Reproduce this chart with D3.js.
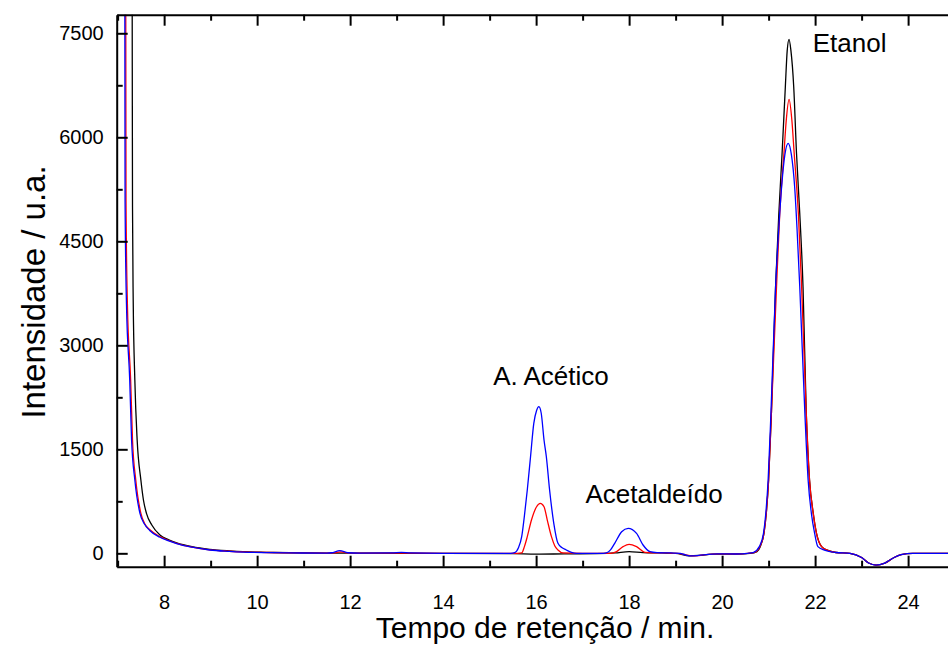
<!DOCTYPE html>
<html>
<head>
<meta charset="utf-8">
<script src="https://cdn.jsdelivr.net/npm/d3@7"></script>
<style>
  html, body { margin: 0; padding: 0; background: #fff; }
  svg { display: block; font-family: "Liberation Sans", Arial, Helvetica, sans-serif; }
</style>
</head>
<body>
<svg id="chart" width="948" height="645"></svg>
<script>
// Chromatogram traces: [retention time (min), intensity (a.u.)]
const traceBlack = [
  [7.31, 9500], [7.315, 7000], [7.32, 5000], [7.335, 3650], [7.37, 2500],
  [7.42, 1634], [7.50, 1057], [7.555, 769], [7.62, 577], [7.735, 408], [7.91, 264],
  [8.10, 195], [8.27, 150], [8.60, 95], [8.98, 58], [9.40, 35], [9.70, 23],
  [10.2, 14], [10.7, 8], [11.5, 4], [12.5, 2], [13.5, 0], [15.5, -5], [16.0, -12],
  [16.6, -8], [17.3, -5], [17.7, 5], [18.0, 25], [18.3, 10], [18.7, 5], [19.0, 0],
  [19.3, -35], [19.5, -30], [19.8, -12], [20.3, -10], [20.6, 0], [20.75, 25],
  [20.82, 96], [20.90, 288], [20.95, 577], [21.0, 1057], [21.06, 2019], [21.15, 3845],
  [21.22, 4900], [21.29, 5769], [21.36, 6730], [21.40, 7250], [21.44, 7413],
  [21.48, 7250], [21.54, 6730], [21.60, 5769], [21.67, 4900], [21.74, 3845],
  [21.81, 2019], [21.88, 1057], [21.96, 577], [22.03, 288], [22.14, 96], [22.26, 45],
  [22.45, 12], [22.75, 0], [23.0, -60], [23.15, -140], [23.32, -170], [23.5, -140],
  [23.7, -60], [23.85, -20], [24.1, 0], [25.0, 0]
];

const traceRed = [
  [7.17, 9500], [7.175, 7768], [7.18, 5090], [7.21, 3600], [7.28, 2500], [7.32, 1634],
  [7.39, 1057], [7.50, 577], [7.58, 430], [7.70, 336], [7.91, 240],
  [8.10, 185], [8.27, 145], [8.60, 90], [8.98, 50], [9.40, 30], [9.70, 20],
  [10.2, 12], [10.7, 7], [11.5, 3], [11.65, 5], [11.8, 22], [11.95, 5], [12.2, 2],
  [13.0, 3], [14.0, 0], [15.6, 0], [15.69, 5], [15.75, 100], [15.81, 240],
  [15.90, 480], [16.01, 672], [16.09, 721], [16.17, 672], [16.24, 480], [16.33, 240],
  [16.40, 110], [16.47, 48], [16.58, 5], [17.0, 0], [17.6, 0], [17.73, 24],
  [17.87, 96], [18.0, 130], [18.16, 96], [18.34, 15], [18.5, 8], [18.8, 5],
  [19.05, 0], [19.2, -20], [19.35, -38], [19.5, -32], [19.7, -15], [19.9, -8],
  [20.3, -10], [20.55, 0], [20.70, 15], [20.81, 96], [20.90, 288], [20.95, 577],
  [21.0, 1057], [21.06, 2019], [21.17, 3845], [21.24, 4900], [21.33, 5769],
  [21.38, 6250], [21.44, 6548], [21.50, 6250], [21.55, 5769], [21.64, 4900],
  [21.71, 3845], [21.81, 2019], [21.88, 1057], [21.96, 577], [22.03, 288],
  [22.14, 96], [22.26, 45], [22.45, 12], [22.75, 0], [23.0, -60], [23.15, -140],
  [23.32, -170], [23.5, -140], [23.7, -60], [23.85, -20], [24.1, 0], [25.0, 0]
];

const traceBlue = [
  [7.15, 9500], [7.155, 7768], [7.16, 5090], [7.19, 3600], [7.26, 2500], [7.30, 1634],
  [7.37, 1057], [7.48, 577], [7.57, 430], [7.69, 330], [7.90, 235],
  [8.10, 180], [8.27, 140], [8.60, 88], [8.98, 48], [9.40, 28], [9.70, 18],
  [10.2, 10], [10.7, 6], [11.5, 3], [11.6, 8], [11.78, 38], [11.95, 8], [12.2, 3],
  [12.9, 5], [13.1, 15], [13.3, 5], [14.0, 0], [15.45, 0], [15.54, 10], [15.62, 80],
  [15.69, 240], [15.75, 550], [15.81, 913], [15.88, 1393], [15.95, 1875],
  [16.01, 2060], [16.06, 2115], [16.11, 2020], [16.17, 1634], [16.22, 1393],
  [16.29, 913], [16.38, 433], [16.47, 144], [16.56, 80], [16.65, 48], [16.76, 15],
  [16.87, 0], [17.45, 0], [17.51, 5], [17.60, 50], [17.69, 144], [17.84, 312],
  [17.98, 360], [18.16, 288], [18.30, 120], [18.45, 24], [18.6, 10], [18.9, 5],
  [19.1, 0], [19.2, -20], [19.33, -38], [19.5, -30], [19.7, -15], [19.9, -8],
  [20.3, -10], [20.55, 0], [20.68, 15], [20.80, 96], [20.89, 288], [20.94, 577],
  [20.99, 1057], [21.05, 2019], [21.15, 3845], [21.22, 4700], [21.28, 5287],
  [21.35, 5750], [21.42, 5913], [21.49, 5750], [21.56, 5287], [21.61, 4700],
  [21.67, 3845], [21.78, 2019], [21.85, 1057], [21.92, 577], [21.99, 288],
  [22.06, 96], [22.2, 45], [22.45, 12], [22.75, 0], [23.0, -60], [23.15, -140],
  [23.3, -170], [23.5, -140], [23.7, -60], [23.85, -20], [24.1, 0], [25.0, 0]
];

const xTicks = [8, 10, 12, 14, 16, 18, 20, 22, 24];
const yTicks = [0, 1500, 3000, 4500, 6000, 7500];

// Peak annotations: [text, x (min), y (a.u.), anchor]
const peakLabels = [
  ["A. Acético", 16.32, 2427, "middle"],
  ["Acetaldeído", 17.06, 730, "start"],
  ["Etanol", 21.95, 7225, "start"]
];

const svg = d3.select("#chart");
const plot = { left: 116.7, right: 954.6, top: 14.7, bottom: 566.7 };

const x = d3.scaleLinear().domain([6.98, 25.0]).range([plot.left, plot.right]);
const y = d3.scaleLinear().domain([-193, 7768]).range([plot.bottom, plot.top]);

svg.append("defs").append("clipPath").attr("id", "plotClip")
  .append("rect")
  .attr("x", plot.left).attr("y", plot.top)
  .attr("width", plot.right - plot.left).attr("height", plot.bottom - plot.top);

const line = d3.line()
  .x(d => x(d[0]))
  .y(d => y(d[1]))
  .curve(d3.curveMonotoneX);

const traces = svg.append("g").attr("clip-path", "url(#plotClip)");
[[traceBlack, "#000000"], [traceRed, "#ff0000"], [traceBlue, "#0000ff"]].forEach(([data, color]) => {
  traces.append("path")
    .datum(data)
    .attr("fill", "none")
    .attr("stroke", color)
    .attr("stroke-width", 1.3)
    .attr("stroke-linejoin", "round")
    .attr("d", line);
});

// Axes: ticks point inward, minor ticks halfway between majors
const xMinor = d3.range(7, 25.01, 1).filter(v => !xTicks.includes(v));
const yMinor = d3.range(750, 7700, 1500);

function styleTicks(g) {
  g.selectAll(".domain").attr("stroke", "#000").attr("stroke-width", 2);
  g.selectAll(".tick line").attr("stroke", "#000").attr("stroke-width", 2);
  g.selectAll(".tick text")
    .attr("fill", "#000")
    .style("font-size", "20px")
    .style("font-family", "'Liberation Sans', Arial, sans-serif");
}
function minorOnly(g) {
  g.select(".domain").remove();
  g.selectAll(".tick line").attr("stroke", "#000").attr("stroke-width", 2);
}

// bottom axis
const gx = svg.append("g").attr("transform", `translate(0,${plot.bottom})`)
  .call(d3.axisBottom(x).tickValues(xTicks).tickSize(-11).tickPadding(28).tickSizeOuter(0).tickFormat(d3.format("d")));
styleTicks(gx);
svg.append("g").attr("transform", `translate(0,${plot.bottom})`)
  .call(d3.axisBottom(x).tickValues(xMinor).tickSize(-6).tickFormat("").tickSizeOuter(0))
  .call(minorOnly);

// top axis
const gxt = svg.append("g").attr("transform", `translate(0,${plot.top})`)
  .call(d3.axisTop(x).tickValues(xTicks).tickSize(-11).tickFormat("").tickSizeOuter(0));
styleTicks(gxt);
svg.append("g").attr("transform", `translate(0,${plot.top})`)
  .call(d3.axisTop(x).tickValues(xMinor).tickSize(-6).tickFormat("").tickSizeOuter(0))
  .call(minorOnly);

// left axis
const gy = svg.append("g").attr("transform", `translate(${plot.left},0)`)
  .call(d3.axisLeft(y).tickValues(yTicks).tickSize(-11).tickPadding(13).tickSizeOuter(0).tickFormat(d3.format("d")));
styleTicks(gy);
svg.append("g").attr("transform", `translate(${plot.left},0)`)
  .call(d3.axisLeft(y).tickValues(yMinor).tickSize(-6).tickFormat("").tickSizeOuter(0))
  .call(minorOnly);

// axis titles
svg.append("text")
  .attr("x", 545).attr("y", 638)
  .attr("text-anchor", "middle")
  .style("font-size", "30px")
  .text("Tempo de retenção / min.");

svg.append("text")
  .attr("transform", "translate(45,292) rotate(-90)")
  .attr("text-anchor", "middle")
  .style("font-size", "33px")
  .text("Intensidade / u.a.");

// peak annotations
svg.append("g").selectAll("text")
  .data(peakLabels)
  .join("text")
  .attr("x", d => x(d[1]))
  .attr("y", d => y(d[2]))
  .attr("text-anchor", d => d[3])
  .style("font-size", "26px")
  .text(d => d[0]);
</script>
</body>
</html>
